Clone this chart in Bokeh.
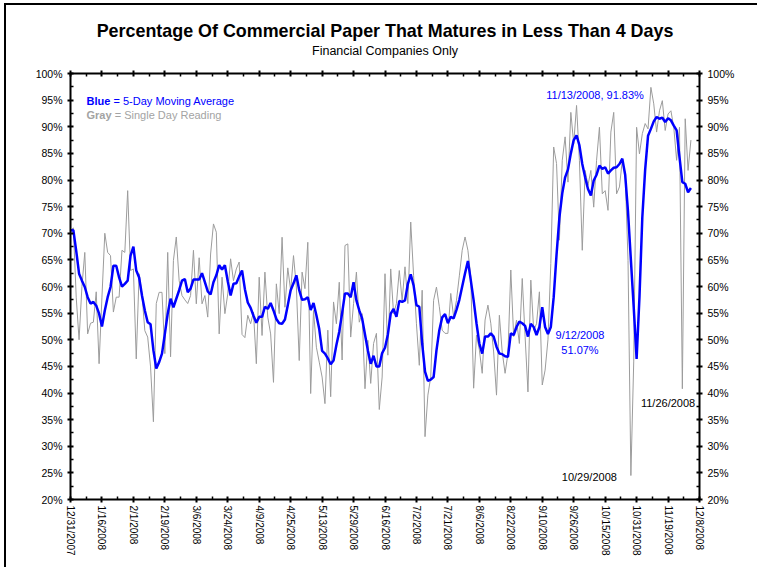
from bokeh.plotting import figure
from bokeh.layouts import column
from bokeh.models import (Range1d, LinearAxis, FixedTicker, CustomJSTickFormatter,
                          PrintfTickFormatter, Label, Title, ColumnDataSource)
from bokeh.embed import file_html
from bokeh.resources import INLINE

# ---------------- data ----------------
x_labels = ["12/31/2007", "1/16/2008", "2/1/2008", "2/19/2008", "3/6/2008", "3/24/2008",
            "4/9/2008", "4/25/2008", "5/13/2008", "5/29/2008", "6/16/2008", "7/2/2008",
            "7/21/2008", "8/6/2008", "8/22/2008", "9/10/2008", "9/26/2008", "10/15/2008",
            "10/31/2008", "11/19/2008", "12/8/2008"]

# single day reading (%), one value per trading day
gray_pct = [
    70.5, 71, 58, 50, 60, 66.4, 51.1, 53.1, 53.3, 59, 45.5, 58, 70, 66.4, 65.8, 55.2, 58, 58, 66.8, 66.4,
    78, 63, 63.3, 46.4, 62.4, 58.6, 51.7, 50.5, 44.9, 34.6, 56.8, 58.9, 58.9, 47.4, 66.4, 46.8, 64.9, 69.3,
    61.1, 58.3, 57.5, 56.8, 58.3, 66.8,
    56.75, 65.4, 56.75, 58.3, 54.25, 66.1, 71.75, 70.2, 51.1, 61.75, 54.9, 58.6, 65.2, 61.1, 63.3, 64.6,
    51, 50.4, 54.6, 53, 55.2, 45.5, 61.75, 50.8, 62.7, 54.25, 51.1, 42, 60.5, 54.9, 69.25, 56.1, 63.5,
    59.25, 65.8, 59.9, 46.1, 62.7, 59.6, 68.3, 39.9, 55.5, 48.6, 45.8,
    43, 38, 51.8, 39.3, 57.1, 53, 60.8, 46.2, 67.7, 68, 50.5, 56.8, 62.7, 53.3, 54.9, 40.8, 49.9, 41.8,
    49.3, 51.2, 36.9, 43, 62.4, 47.1, 63.3, 54.9, 56.8, 63, 57.4, 63.7, 56.8, 72.1, 62.1, 53, 45.2, 59.3,
    31.8, 39.6, 43, 57.4, 59.9, 56.2, 51.8, 51.2,
    51.2, 58.7, 54.3, 57.4, 62, 66.8, 69.3, 66.8, 61.8, 40.9, 50.9, 48.1, 43.7, 53.7, 56.5, 53.1, 47.7,
    39.6, 54.6, 47.7, 43.7, 47.4, 63.1, 50.6, 53.7, 49.3, 61.5, 50.6, 40.2, 61.2, 51.8, 53, 59, 41.5,
    44.3, 50, 64.3, 86.2, 83.1, 68.7, 83.7, 88.1, 79.6,
    92.7, 86.8, 94, 83.7, 66.8, 81.8, 79, 81.8, 74.9, 83.7, 89.9, 77.4, 78, 74.3, 89, 92.7, 77.4, 78.7,
    83.7, 81.2, 64.9, 24.5, 46, 89.9, 84.9, 88.7, 90.6, 89.6, 97.4, 94.3, 89, 93, 94.9, 89.3, 92.4, 93,
    89.9, 83.7, 89.9, 40.8, 91.5, 81.8, 87.5,
]

# 5-day moving average (%)
ma_pct = [
    70.5, 70.6, 66.7, 62.4, 61.1, 59.9, 58, 56.8, 57.1, 56.4, 54.9, 52.5, 55.5, 58, 59.9, 63.9, 63.9,
    61.7, 60, 60.5, 61.1, 65.8, 67.5, 63, 61.7, 58.3, 55.5, 53.3, 52.9, 48, 44.6, 45.8, 47.4, 51.1, 54.9,
    57.7, 56.1, 57.7, 59.3, 61.1, 61.4, 58.9, 59.6, 61.3,
    61.3, 61.3, 62.5, 60.8, 59.1, 58.5, 60.8, 62.1, 64, 63.2, 64, 61, 58.3, 60.5, 60.6, 61.9, 63, 59.5,
    57, 56, 54.5, 53.2, 54.3, 54.3, 56.2, 55.8, 56.9, 55.5, 53.9, 53.1, 53, 53.8, 56.5, 59.3, 60.6, 62.1,
    59.3, 57.5, 57.6, 58, 55.6, 56.9, 54.6, 52,
    47.9, 47.4, 46.5, 45.4, 46.1, 49, 51.5, 55, 58.7, 58.7, 58, 60.8, 57.4, 55.5, 54, 51, 48, 45.5, 47,
    45, 45, 47.5, 48.5, 51, 54.9, 55.8, 54.3, 57.3, 57.1, 57.4, 60.5, 62.3, 60.2, 56.5, 56.2, 49.3, 44,
    42.3, 42.5, 43, 48, 51.8, 54.2, 54.8,
    53.1, 54.3, 54, 55.6, 57.5, 60, 62.5, 64.8, 61.2, 57.4, 53.1, 49.3, 47.4, 50.6, 50.6, 51.2, 50.6,
    48.7, 47.4, 47.3, 46.9, 46.8, 51.2, 50.9, 52.4, 53.4, 53.1, 52.6, 50.6, 53, 52.4, 50.9, 52.4, 56.1,
    52.4, 51.07, 52.4, 58, 66, 73, 77.5, 80.5, 82,
    85, 87.5, 88.4, 86.5, 83, 80.5, 78.3, 77.1, 79.9, 81, 82.7, 82.1, 82.4, 81.2, 81.8, 82.3, 82.4, 83,
    84, 81, 74, 65, 56, 46.4, 58, 73, 82, 88.3, 89.6, 91, 91.83, 91.5, 91.7, 90.9, 91.6, 91.2, 90.2,
    89.3, 84.3, 79.6, 79.3, 77.7, 78.5,
]

# annotated points: (label date, index into the series)
peak_note = ("11/13/2008", 205)
sep_note = ("9/12/2008", 167)
oct_note = ("10/29/2008", 196)
nov_note = ("11/26/2008", 214)

y_ticks = list(range(20, 101, 5))

title_text = "Percentage Of Commercial Paper That Matures in Less Than 4 Days"
subtitle_text = "Financial Companies Only"

# ---------------- figure ----------------
FONT = "Liberation Sans"
BLUE = "#0000FF"
GRAY = "#9c9c9c"
LEGEND_GRAY = "#a3a3a3"
step = 11
x_max = step * (len(x_labels) - 1)
idx = list(range(len(gray_pct)))

p = figure(width=751, height=562, x_range=Range1d(0, x_max), y_range=Range1d(20, 100),
           output_backend="svg", toolbar_location=None,
           min_border_left=64, min_border_right=58, min_border_top=68, min_border_bottom=68)
p.title.text = ""
p.title.visible = False
p.grid.visible = False
p.outline_line_color = None
p.background_fill_color = "white"
p.border_fill_color = "white"

x_ticker = FixedTicker(ticks=[k * step for k in range(len(x_labels))],
                       minor_ticks=[k * step + step / 2 for k in range(len(x_labels) - 1)])
y_ticker = FixedTicker(ticks=y_ticks, minor_ticks=[t + 2.5 for t in y_ticks[:-1]])


def style(ax, size):
    ax.axis_line_color = "black"
    ax.axis_line_width = 2
    ax.major_tick_line_color = "black"
    ax.major_tick_line_width = 2
    ax.major_tick_in = 3
    ax.major_tick_out = 3
    ax.minor_tick_line_color = "black"
    ax.minor_tick_line_width = 1.5
    ax.minor_tick_in = 3
    ax.minor_tick_out = 0
    ax.major_label_text_font = FONT
    ax.major_label_text_font_size = size
    ax.major_label_text_color = "black"


xfmt = CustomJSTickFormatter(args=dict(labels=x_labels, step=step),
                             code="const k = Math.round(tick/step); return (k >= 0 && k < labels.length) ? labels[k] : '';")
bx = p.xaxis[0]
bx.ticker = x_ticker
bx.formatter = xfmt
bx.major_label_orientation = "vertical"
bx.major_label_standoff = 3
style(bx, "10px")

top = LinearAxis(ticker=x_ticker, formatter=CustomJSTickFormatter(code="return '';"))
style(top, "0px")
top.major_label_standoff = 0
p.add_layout(top, "above")

# blank spacer, then subtitle, then main title (stacked outward from the frame)
p.add_layout(Title(text=" ", text_font=FONT, text_font_size="1px", standoff=10), "above")
p.add_layout(Title(text=subtitle_text, align="center", text_font=FONT, text_font_size="12.5px",
                   text_font_style="normal", text_color="black", standoff=0), "above")
p.add_layout(Title(text=title_text, align="center", text_font=FONT, text_font_size="17.9px",
                   text_font_style="bold", text_color="black", standoff=1), "above")

ly = p.yaxis[0]
ly.ticker = y_ticker
ly.formatter = PrintfTickFormatter(format="%d%%")
ly.major_label_standoff = 5
style(ly, "10.5px")

ry = LinearAxis(ticker=y_ticker, formatter=PrintfTickFormatter(format="%d%%"))
ry.major_label_standoff = 5
style(ry, "10.5px")
p.add_layout(ry, "right")

src = ColumnDataSource(dict(i=idx, gray=gray_pct, ma=ma_pct))
p.line("i", "gray", source=src, line_color=GRAY, line_width=1)
p.line("i", "ma", source=src, line_color=BLUE, line_width=2.5)


def lab(x, y, text, color="black", size="11px", align="left", style_="normal", x_offset=0):
    p.add_layout(Label(x=x, y=y, text=text, text_color=color, text_font=FONT,
                       text_font_size=size, text_align=align, text_baseline="middle",
                       text_font_style=style_, x_offset=x_offset))


# legend text
lab(5.6, 94.9, "Blue", color=BLUE, style_="bold")
lab(5.6, 94.9, "= 5-Day Moving Average", color=BLUE, x_offset=27)
lab(5.6, 92.3, "Gray", color=LEGEND_GRAY, style_="bold")
lab(5.6, 92.3, "= Single Day Reading", color=LEGEND_GRAY, x_offset=28.2)

# annotations
d, i = peak_note
lab(i - 4.45, ma_pct[i] + 4.17, "%s, %.2f%%" % (d, ma_pct[i]), color=BLUE, align="right")
d, i = sep_note
lab(i + 11.2, ma_pct[i] - 0.27, d, color=BLUE, align="center")
lab(i + 11.2, ma_pct[i] - 2.95, "%.2f%%" % ma_pct[i], color=BLUE, align="center")
d, i = oct_note
lab(i - 4.9, gray_pct[i] - 0.2, d, align="right")
d, i = nov_note
lab(i - 5, gray_pct[i] - 2.6, d, align="center")

# chart frame: only its top and left edges fall inside the window
page = column(p, styles={"border-top": "2px solid black", "border-left": "2px solid black",
                         "margin-top": "3px", "margin-left": "4px"})

open("out.html", "w").write(file_html(page, INLINE))
